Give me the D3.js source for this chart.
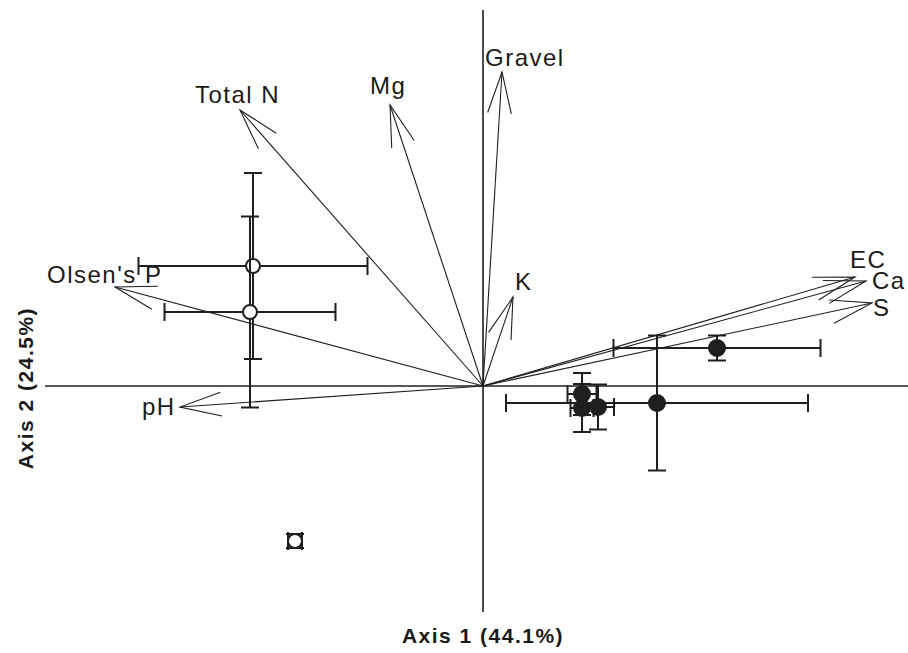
<!DOCTYPE html>
<html>
<head>
<meta charset="utf-8">
<script src="https://cdn.jsdelivr.net/npm/d3@7"></script>
<style>
  body { margin: 0; background: #fff; }
  svg text { font-family: "Liberation Sans", Arial, sans-serif; fill: #1a1a1a; }
</style>
</head>
<body>
<div id="container"></div>
<script>
// biplot scores, axis units
var variables = ["Total N", "Mg", "Gravel", "K", "EC", "Ca", "S", "Olsen's P", "pH"];
var loadX = [-2.43, -0.93, 0.19, 0.30, 3.72, 3.83, 3.89, -3.68, -3.03];
var loadY = [2.76, 2.81, 3.14, 0.89, 1.09, 1.05, 0.83, 0.99, -0.21];

// group means and standard errors
var groupX = [-2.30, -2.33, -1.88, 2.34, 1.74, 0.99, 0.99, 1.15];
var groupY = [1.20, 0.74, -1.55, 0.38, -0.17, -0.08, -0.22, -0.21];
var groupSeX = [1.145, 0.855, 0.07, 1.035, 1.51, 0.145, 0.115, 0.16];
var groupSeY = [0.93, 0.955, 0.07, 0.125, 0.675, 0.21, 0.24, 0.225];
var groupOpen = [true, true, true, false, false, false, false, false];

var axisTitleX = "Axis 1 (44.1%)";
var axisTitleY = "Axis 2 (24.5%)";

// label nudges from arrow tips (px)
var labelNudge = [[-45, -7], [-20, -11], [-17, -6], [2, -7], [-5, -9], [6, 8], [1, 13], [-68, -4], [-38, 8]];

var width = 908, height = 653;
var ink = "#1f1f1f";

var svg = d3.select("#container").append("svg")
  .attr("width", width)
  .attr("height", height);

var x = d3.scaleLinear().domain([-4.38, 4.25]).range([45, 908]);
var y = d3.scaleLinear().domain([-2.26, 3.76]).range([612, 10]);

// axes through the origin
svg.append("line")
  .attr("x1", x(-4.38)).attr("x2", x(4.25))
  .attr("y1", y(0)).attr("y2", y(0))
  .style("stroke", ink).style("stroke-width", 1.6);
svg.append("line")
  .attr("x1", x(0)).attr("x2", x(0))
  .attr("y1", y(3.76)).attr("y2", y(-2.26))
  .style("stroke", ink).style("stroke-width", 1.6);

// arrows
var barbLen = 43, barbAng = 16 * Math.PI / 180;
var arrows = variables.map(function(v, i){
  return { name: v, x: loadX[i], y: loadY[i], nudge: labelNudge[i] };
});

var arrowG = svg.selectAll("g.arrow")
  .data(arrows)
  .enter()
  .append("g")
  .attr("class", "arrow");

arrowG.append("line")
  .attr("x1", x(0)).attr("y1", y(0))
  .attr("x2", function(d){ return x(d.x); })
  .attr("y2", function(d){ return y(d.y); })
  .style("stroke", ink).style("stroke-width", 1.1);

arrowG.append("path")
  .attr("d", function(d){
    var tx = x(d.x), ty = y(d.y);
    var back = Math.atan2(y(0) - ty, x(0) - tx);
    var a1 = back + barbAng, a2 = back - barbAng;
    return "M" + (tx + barbLen * Math.cos(a1)) + "," + (ty + barbLen * Math.sin(a1)) +
           "L" + tx + "," + ty +
           "L" + (tx + barbLen * Math.cos(a2)) + "," + (ty + barbLen * Math.sin(a2));
  })
  .style("fill", "none").style("stroke", ink).style("stroke-width", 1.1);

arrowG.append("text")
  .attr("x", function(d){ return x(d.x) + d.nudge[0]; })
  .attr("y", function(d){ return y(d.y) + d.nudge[1]; })
  .style("font-size", "24px")
  .style("letter-spacing", "1.5px")
  .text(function(d){ return d.name; });

// group points with error bars
var groups = groupX.map(function(gx, i){
  return { x: gx, y: groupY[i], sx: groupSeX[i], sy: groupSeY[i], open: groupOpen[i] };
});

var cap = 9;
var pts = svg.selectAll("g.pt")
  .data(groups)
  .enter()
  .append("g")
  .attr("class", "pt");

pts.each(function(d){
  var g = d3.select(this);
  var cx = x(d.x), cy = y(d.y);
  var x0 = x(d.x - d.sx), x1 = x(d.x + d.sx);
  var y0 = y(d.y + d.sy), y1 = y(d.y - d.sy);
  var segs = [
    [x0, cy, x1, cy], [cx, y0, cx, y1],
    [x0, cy - cap, x0, cy + cap], [x1, cy - cap, x1, cy + cap],
    [cx - cap, y0, cx + cap, y0], [cx - cap, y1, cx + cap, y1]
  ];
  g.selectAll("line")
    .data(segs)
    .enter()
    .append("line")
    .attr("x1", function(s){ return s[0]; })
    .attr("y1", function(s){ return s[1]; })
    .attr("x2", function(s){ return s[2]; })
    .attr("y2", function(s){ return s[3]; })
    .style("stroke", ink).style("stroke-width", 2);
  g.append("circle")
    .attr("cx", cx).attr("cy", cy)
    .attr("r", d.open ? 7 : 8)
    .style("fill", d.open ? "#fff" : ink)
    .style("stroke", ink).style("stroke-width", 2);
});

// axis titles
svg.append("text")
  .attr("x", x(0)).attr("y", 643)
  .attr("text-anchor", "middle")
  .style("font-size", "21px").style("font-weight", "bold")
  .style("letter-spacing", "1.5px")
  .text(axisTitleX);

svg.append("text")
  .attr("transform", "translate(33," + 388 + ") rotate(-90)")
  .attr("text-anchor", "middle")
  .style("font-size", "21px").style("font-weight", "bold")
  .style("letter-spacing", "1.5px")
  .text(axisTitleY);
</script>
</body>
</html>
